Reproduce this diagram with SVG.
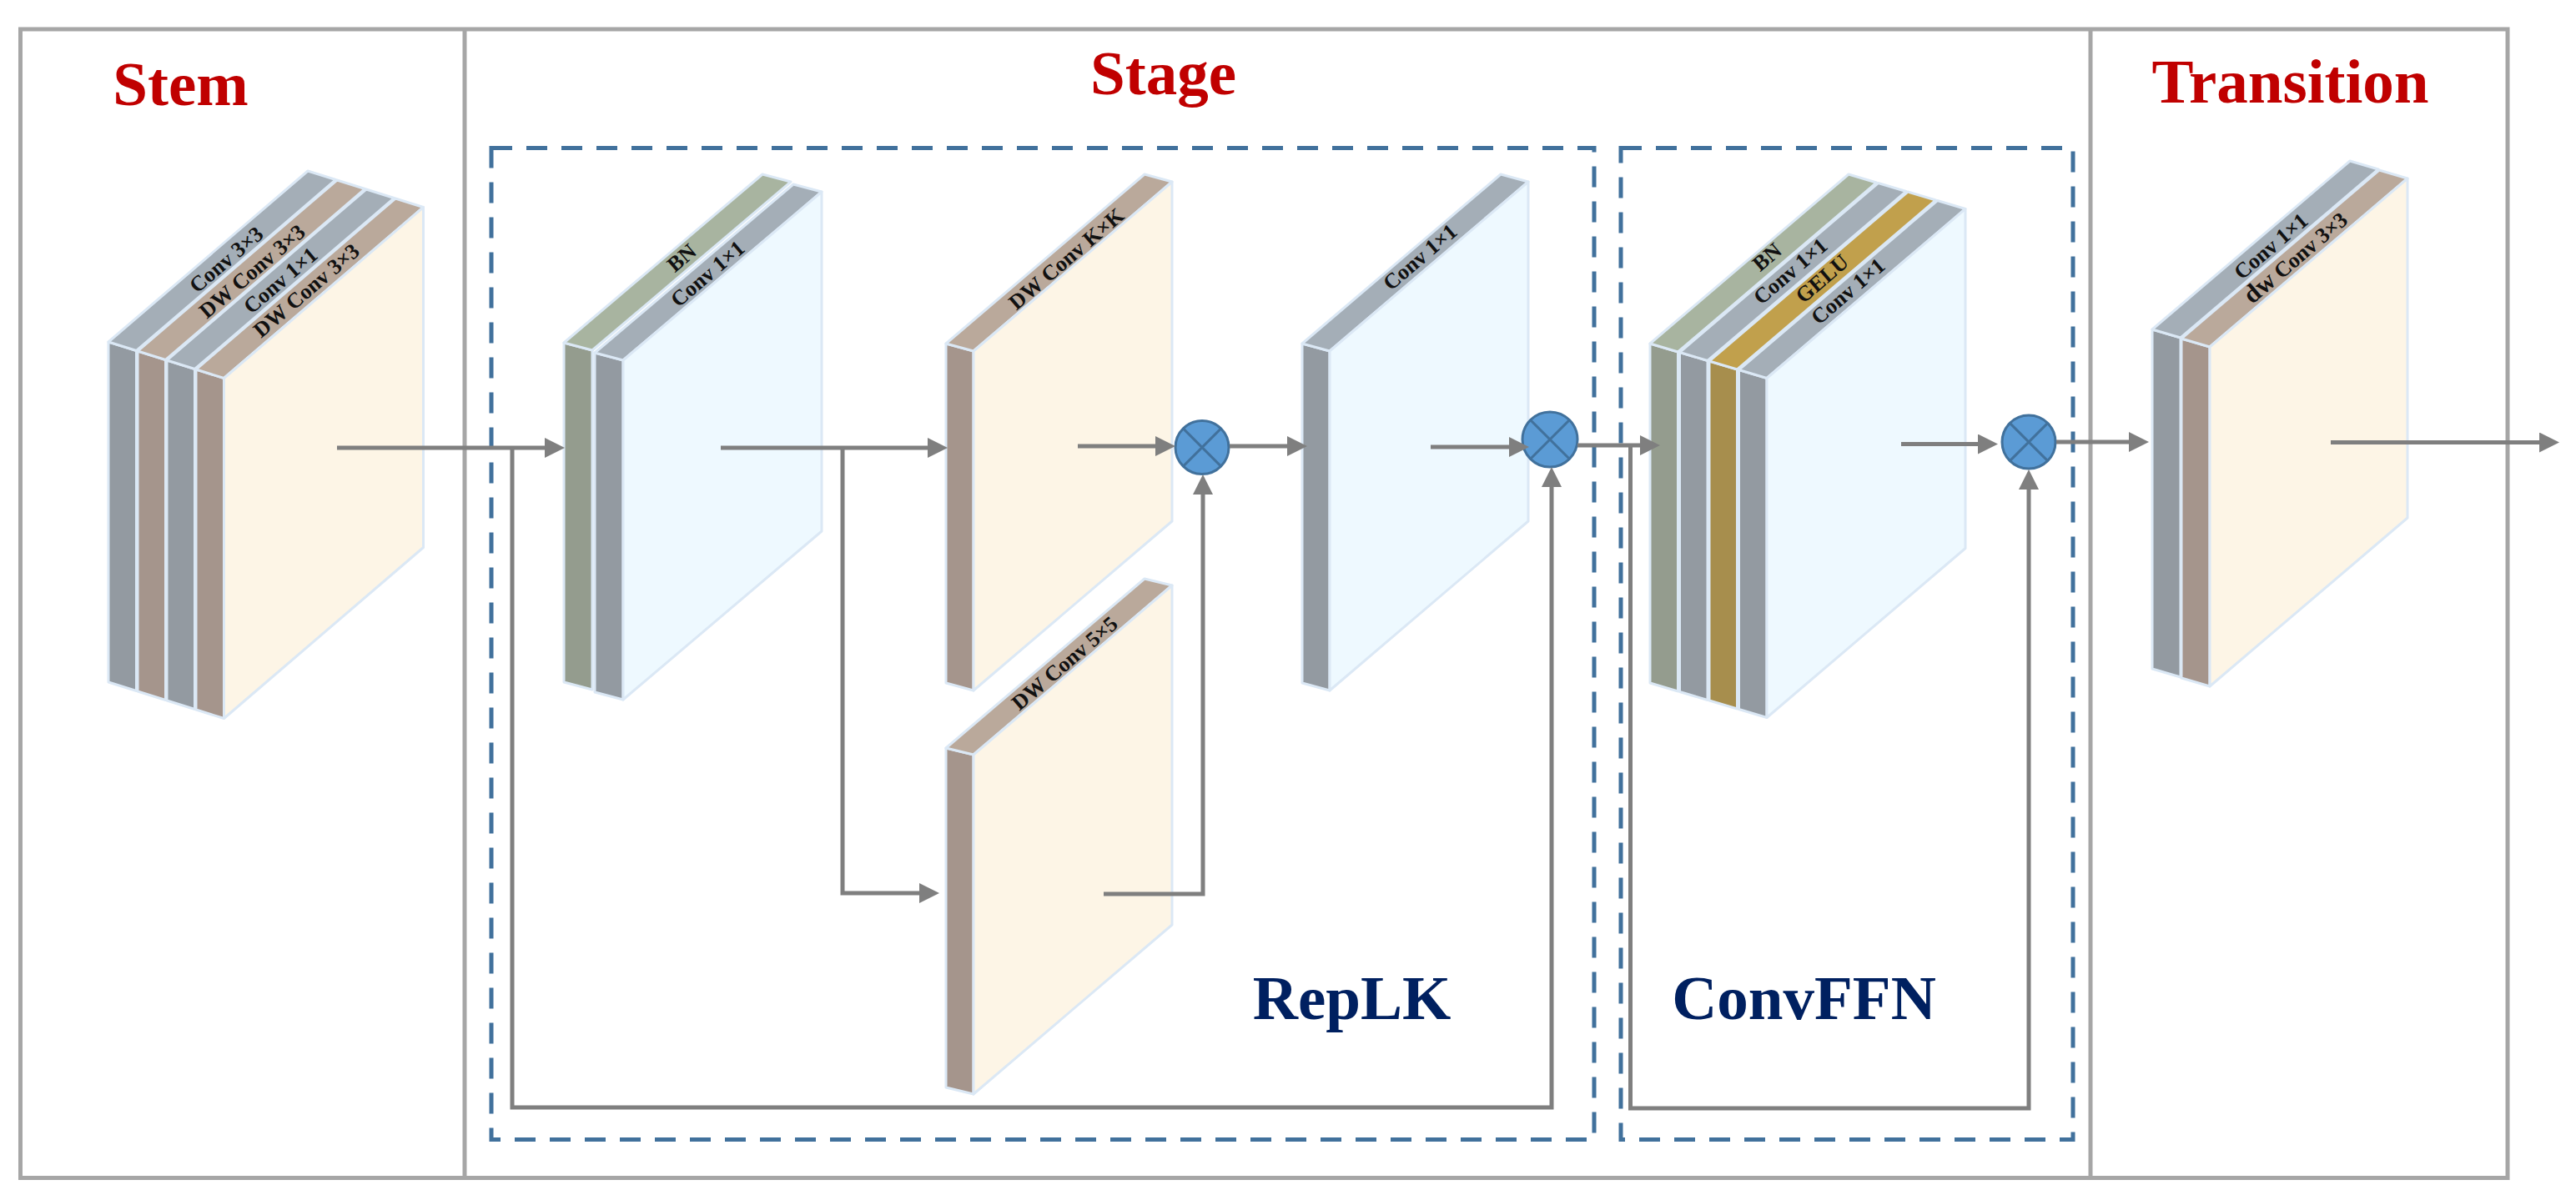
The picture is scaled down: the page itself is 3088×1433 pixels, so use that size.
<svg xmlns="http://www.w3.org/2000/svg" width="3088" height="1433" viewBox="0 0 3088 1433">
<defs>
<style>
.frame{fill:none;stroke:#a6a6a6;stroke-width:5}
.dash{fill:none;stroke:#41719c;stroke-width:5;stroke-dasharray:25 17}
.conn{fill:none;stroke:#7f7f7f;stroke-width:5;marker-end:url(#arr)}
.f{stroke:#dbe8f5;stroke-width:3;stroke-linejoin:round}
.gs{fill:#939aa1}.gt{fill:#a4aeb7}
.bs{fill:#a5958c}.bt{fill:#baa99b}
.ns{fill:#949c8e}.nt{fill:#a8b4a0}
.ys{fill:#a78e4d}.yt{fill:#c1a04c}
.cream{fill:#fdf5e6}.ice{fill:#eef9ff}
.lbl{font-family:"Liberation Serif","Times New Roman",serif;font-weight:bold;font-size:26px;fill:#111;text-anchor:middle}
.title{font-family:"Liberation Serif","Times New Roman",serif;font-weight:bold;font-size:75px;fill:#c00000;text-anchor:middle}
.sub{font-family:"Liberation Serif","Times New Roman",serif;font-weight:bold;font-size:75px;fill:#002060;text-anchor:middle}
.mul circle{fill:#5b9bd5;stroke:#41719c;stroke-width:3}
.mul path{stroke:#41719c;stroke-width:3;fill:none}
</style>
<marker id="arr" markerUnits="userSpaceOnUse" markerWidth="24" markerHeight="24" refX="14" refY="12" orient="auto" viewBox="0 0 24 24">
<path d="M0,0 L24,12 L0,24 Z" fill="#7f7f7f"/>
</marker>
</defs>
<rect width="3088" height="1433" fill="#ffffff"/>

<g id="frame">
<rect class="frame" x="24.5" y="35" width="2981.5" height="1377.5"/>
<line class="frame" x1="557" y1="35" x2="557" y2="1412.5"/>
<line class="frame" x1="2506" y1="35" x2="2506" y2="1412.5"/>
<text class="title" x="216.5" y="126">Stem</text>
<text class="title" x="1394.5" y="113">Stage</text>
<text class="title" x="2745.5" y="123">Transition</text>
</g>

<g id="replk-box">
<rect class="dash" x="589" y="177.5" width="1322" height="1189"/>
<text class="sub" x="1620.5" y="1222">RepLK</text>
</g>
<g id="convffn-box">
<rect class="dash" x="1943" y="177.5" width="542" height="1189"/>
<text class="sub" x="2162.5" y="1222">ConvFFN</text>
</g>

<g id="stem-block">
<polygon class="f gs" points="130,410 163.5,420.5 163.5,828.5 130,818"/>
<polygon class="f gt" points="130,410 163.5,420.5 402.5,215.5 369,205"/>
<polygon class="f bs" points="165,421 198.5,431.5 198.5,839.5 165,829"/>
<polygon class="f bt" points="165,421 198.5,431.5 437.5,226.5 404,216"/>
<polygon class="f gs" points="200,432 233.5,442.5 233.5,850.5 200,840"/>
<polygon class="f gt" points="200,432 233.5,442.5 472.5,237.5 439,227"/>
<polygon class="f bs" points="235,443 268.5,453.5 268.5,861.5 235,851"/>
<polygon class="f bt" points="235,443 268.5,453.5 507.5,248.5 474,238"/>
<polygon class="f cream" points="268.5,453.5 507.5,248.5 507.5,656.5 268.5,861.5"/>
<text class="lbl" transform="translate(271,311) rotate(-40.5)" y="9">Conv 3×3</text>
<text class="lbl" transform="translate(302,325) rotate(-40.5)" y="9">DW Conv 3×3</text>
<text class="lbl" transform="translate(336,336) rotate(-40.5)" y="9">Conv 1×1</text>
<text class="lbl" transform="translate(367,348) rotate(-40.5)" y="9">DW Conv 3×3</text>
</g>

<g id="bn-conv1x1">
<polygon class="f ns" points="676,411 710,420 710,827 676,818"/>
<polygon class="f nt" points="676,411 710,420 948,218 914,209"/>
<polygon class="f gs" points="713,423 747,432 747,839 713,830"/>
<polygon class="f gt" points="713,423 747,432 985,230 951,221"/>
<polygon class="f ice" points="747,432 985,230 985,637 747,839"/>
<text class="lbl" transform="translate(817,309) rotate(-40.5)" y="9">BN</text>
<text class="lbl" transform="translate(848,328) rotate(-40.5)" y="9">Conv 1×1</text>
</g>

<g id="dwconv-kxk">
<polygon class="f bs" points="1134,412 1167,421 1167,828 1134,819"/>
<polygon class="f bt" points="1134,412 1167,421 1405,218 1372,209"/>
<polygon class="f cream" points="1167,421 1405,218 1405,625 1167,828"/>
<text class="lbl" transform="translate(1278,310) rotate(-40.5)" y="9">DW Conv K×K</text>
</g>

<g id="dwconv-5x5">
<polygon class="f bs" points="1134,897 1167,905 1167,1312 1134,1304"/>
<polygon class="f bt" points="1134,897 1167,905 1405,702 1372,694"/>
<polygon class="f cream" points="1167,905 1405,702 1405,1109 1167,1312"/>
<text class="lbl" transform="translate(1276,795) rotate(-40.5)" y="9">DW Conv 5×5</text>
</g>

<g id="conv1x1-mid">
<polygon class="f gs" points="1561,412 1594,421 1594,828 1561,819"/>
<polygon class="f gt" points="1561,412 1594,421 1832,218 1799,209"/>
<polygon class="f ice" points="1594,421 1832,218 1832,625 1594,828"/>
<text class="lbl" transform="translate(1702,308) rotate(-40.5)" y="9">Conv 1×1</text>
</g>

<g id="convffn-block">
<polygon class="f ns" points="1978,412 2011.5,422 2011.5,829 1978,819"/>
<polygon class="f nt" points="1978,412 2011.5,422 2249.5,219 2216,209"/>
<polygon class="f gs" points="2013.5,422.5 2047,432.5 2047,839.5 2013.5,829.5"/>
<polygon class="f gt" points="2013.5,422.5 2047,432.5 2285,229.5 2251.5,219.5"/>
<polygon class="f ys" points="2049,433 2082.5,443 2082.5,850 2049,840"/>
<polygon class="f yt" points="2049,433 2082.5,443 2320.5,240 2287,230"/>
<polygon class="f gs" points="2084.5,443.5 2118,453.5 2118,860.5 2084.5,850.5"/>
<polygon class="f gt" points="2084.5,443.5 2118,453.5 2356,250.5 2322.5,240.5"/>
<polygon class="f ice" points="2118,453.5 2356,250.5 2356,657.5 2118,860.5"/>
<text class="lbl" transform="translate(2118,308) rotate(-40.5)" y="9">BN</text>
<text class="lbl" transform="translate(2146,325) rotate(-40.5)" y="9">Conv 1×1</text>
<text class="lbl" transform="translate(2184,334) rotate(-40.5)" y="9">GELU</text>
<text class="lbl" transform="translate(2215,349) rotate(-40.5)" y="9">Conv 1×1</text>
</g>

<g id="transition-block">
<polygon class="f gs" points="2580,395 2614,405 2614,812 2580,802"/>
<polygon class="f gt" points="2580,395 2614,405 2851,203 2817,193"/>
<polygon class="f bs" points="2615,406 2649,416 2649,823 2615,813"/>
<polygon class="f bt" points="2615,406 2649,416 2886,214 2852,204"/>
<polygon class="f cream" points="2649,416 2886,214 2886,621 2649,823"/>
<text class="lbl" transform="translate(2722,295) rotate(-40.5)" y="9">Conv 1×1</text>
<text class="lbl" transform="translate(2752,309) rotate(-40.5)" y="9"><tspan font-size="31">dw</tspan> Conv 3×3</text>
</g>

<g id="mul1" class="mul">
<circle cx="1441" cy="536.5" r="32"/>
<path d="M1418.4,513.9 L1463.6,559.1 M1463.6,513.9 L1418.4,559.1"/>
</g>
<g id="mul2" class="mul">
<circle cx="1858" cy="527" r="33"/>
<path d="M1834.7,503.7 L1881.3,550.3 M1881.3,503.7 L1834.7,550.3"/>
</g>
<g id="mul3" class="mul">
<circle cx="2432" cy="530" r="32"/>
<path d="M2409.4,507.4 L2454.6,552.6 M2454.6,507.4 L2409.4,552.6"/>
</g>

<g id="connectors">
<path class="conn" d="M404,537 H667"/>
<path class="conn" d="M614,537 V1328 H1860 V570"/>
<path class="conn" d="M864,537 H1126"/>
<path class="conn" d="M1010,537 V1071 H1116"/>
<path class="conn" d="M1292,535 H1399"/>
<path class="conn" d="M1323,1072 H1442 V579"/>
<path class="conn" d="M1474,535 H1557"/>
<path class="conn" d="M1715,536 H1823"/>
<path class="conn" d="M1891,534 H1980"/>
<path class="conn" d="M1954.5,535 V1329 H2432 V573"/>
<path class="conn" d="M2279,532.5 H2385"/>
<path class="conn" d="M2465,530 H2566"/>
<path class="conn" d="M2794,530.5 H3058"/>
</g>
</svg>
